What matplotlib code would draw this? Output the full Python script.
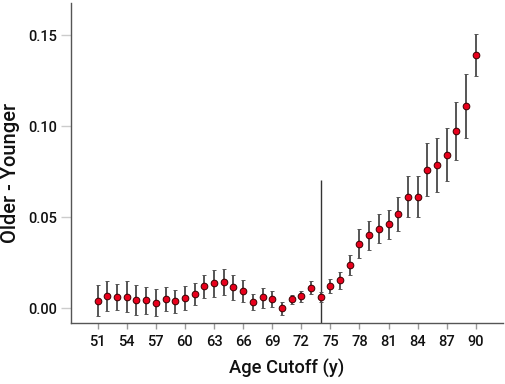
import numpy as np
import matplotlib
matplotlib.use("Agg")
import matplotlib.pyplot as plt

# values
ages = list(range(51, 91))
diff = [0.0040, 0.0064, 0.0059, 0.0062, 0.0046, 0.0044, 0.0029, 0.0049, 0.0038, 0.0053,
        0.0077, 0.0119, 0.0136, 0.0145, 0.0115, 0.0092, 0.0034, 0.0059, 0.0048, -0.0002,
        0.0048, 0.0066, 0.0112, 0.0059, 0.0119, 0.0152, 0.0236, 0.0353, 0.0399, 0.0436,
        0.0460, 0.0516, 0.0613, 0.0613, 0.0760, 0.0784, 0.0842, 0.0971, 0.1110, 0.1390]
upper = [0.0128, 0.0147, 0.0132, 0.0147, 0.0128, 0.0115, 0.0103, 0.0115, 0.0101, 0.0119,
         0.0136, 0.0183, 0.0211, 0.0214, 0.0181, 0.0152, 0.0075, 0.0112, 0.0092, 0.0033,
         0.0070, 0.0095, 0.0148, 0.0086, 0.0158, 0.0200, 0.0291, 0.0432, 0.0480, 0.0518,
         0.0537, 0.0610, 0.0727, 0.0727, 0.0908, 0.0932, 0.0989, 0.1130, 0.1284, 0.1504]
lower = [-0.0046, -0.0018, -0.0009, -0.0022, -0.0040, -0.0031, -0.0046, -0.0018, -0.0026, -0.0013,
         0.0018, 0.0055, 0.0060, 0.0070, 0.0046, 0.0031, -0.0009, 0.0002, 0.0005, -0.0038,
         0.0024, 0.0035, 0.0079, 0.0031, 0.0082, 0.0106, 0.0179, 0.0275, 0.0317, 0.0355,
         0.0381, 0.0421, 0.0502, 0.0502, 0.0615, 0.0637, 0.0698, 0.0813, 0.0936, 0.1277]
cutoff = 74
cutoff_top = 0.0703
xticks = list(range(51, 91, 3))
yticks = [0.00, 0.05, 0.10, 0.15]

plt.rcParams['font.family'] = ['Roboto', 'DejaVu Sans']

fig = plt.figure(figsize=(5.05, 3.84), dpi=100)
ax = fig.add_axes([0.1406, 0.1589, 0.8554, 0.8331])

d = np.array(diff)
yerr = np.vstack([d - np.array(lower), np.array(upper) - d])
ax.errorbar(ages, diff, yerr=yerr, fmt='o', color='#555555', ecolor='#555555',
            elinewidth=1.4, capsize=1.5, capthick=1.0,
            markerfacecolor='#e8001c', markeredgecolor='#3a0000',
            markeredgewidth=0.7, markersize=4.8, zorder=3)

ax.vlines(cutoff, -0.0082, cutoff_top, color='#333333', linewidth=1.0, zorder=2)

ax.set_xlim(48.25, 92.8)
ax.set_ylim(-0.0082, 0.1676)
ax.set_xticks(xticks)
ax.set_yticks(yticks)
ax.set_yticklabels(['0.00', '0.05', '0.10', '0.15'])

for s in ['top', 'right']:
    ax.spines[s].set_visible(False)
for s in ['left', 'bottom']:
    ax.spines[s].set_color('#555555')
    ax.spines[s].set_linewidth(1.0)

ax.tick_params(axis='y', length=7, width=1.0, color='#cccccc', labelsize=10.5,
               labelcolor='#111111', pad=3)
ax.tick_params(axis='x', length=4, width=1.0, color='#999999', labelsize=10.5,
               labelcolor='#111111', pad=5)
for lab in ax.get_xticklabels() + ax.get_yticklabels():
    lab.set_fontweight('medium')

ax.set_xlabel('Age Cutoff (y)', fontsize=13.2, color='#111111', labelpad=7,
              fontweight='medium')
ax.set_ylabel('Older - Younger', fontsize=14.5, color='#111111', labelpad=12,
              fontweight='medium')
ax.yaxis.set_label_coords(-0.118, 0.47)

fig.savefig('out.png', dpi=100)
